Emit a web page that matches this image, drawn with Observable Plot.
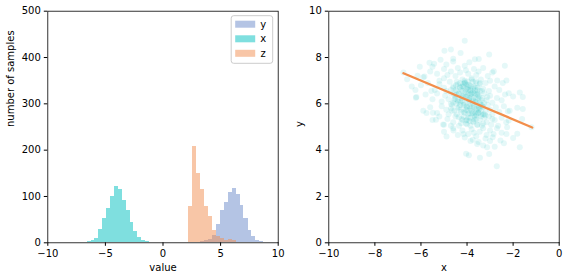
<!DOCTYPE html>
<html>
<head>
<meta charset="utf-8">
<script src="https://cdn.jsdelivr.net/npm/d3@7"></script>
<script src="https://cdn.jsdelivr.net/npm/@observablehq/plot@0.6"></script>
<style>
  html, body { margin: 0; padding: 0; background: #fff; }
  #wrap { position: relative; width: 568px; height: 280px; overflow: hidden; }
  #left, #right { position: absolute; top: 0; }
  #left { left: 0; }
  #right { left: 290px; }
  svg { overflow: visible; }
</style>
</head>
<body>
<div id="wrap"><div id="left"></div><div id="right"></div></div>
<script>
// ---------- data ----------
const seriesNames = ["y", "x", "z"];

// histogram bin edges and counts
const yEdges = [3.26, 3.60, 3.94, 4.29, 4.63, 4.98, 5.32, 5.66, 6.00, 6.35, 6.69, 7.03, 7.38, 7.72, 8.06, 8.41, 8.75];
const yCounts = [2, 4, 8, 15, 39, 70, 86, 109, 118, 104, 81, 53, 27, 14, 6, 2];

const xEdges = [-6.93, -6.59, -6.25, -5.91, -5.57, -5.24, -4.90, -4.56, -4.22, -3.88, -3.54, -3.20, -2.86, -2.53, -2.19, -1.85, -1.51, -1.17];
const xCounts = [1, 2, 4, 9, 28, 52, 73, 99, 121, 114, 91, 69, 43, 24, 11, 6, 2];

const zEdges = [2.19, 2.54, 2.88, 3.23, 3.58, 3.92, 4.27, 4.62, 4.96, 5.31, 5.66, 6.00, 6.35];
const zCounts = [78, 208, 150, 114, 78, 56, 26, 14, 9, 5, 7, 5];

// tick values
const leftXTicks = [-10, -5, 0, 5, 10];
const leftYTicks = [0, 100, 200, 300, 400, 500];
const rightXTicks = [-10, -8, -6, -4, -2, 0];
const rightYTicks = [0, 2, 4, 6, 8, 10];

// scatter points (x, y)
const scatterX = [
  -4.10,-4.98,-4.70,-4.28,-3.04,-6.05,-5.63,-5.43,-5.15,-4.60,-3.66,-3.49,-2.36,-2.84,-6.76,-6.60,-6.40,-6.24,-6.22,-6.15,
  -5.85,-5.76,-5.48,-5.35,-5.04,-4.89,-4.59,-4.15,-4.04,-3.92,-3.44,-2.71,-3.04,-3.13,-3.56,-3.75,-2.89,-2.55,-2.29,-2.00,
  -1.71,-1.82,-1.20,-1.61,-1.82,-1.58,-2.00,-1.58,-1.71,-2.19,-2.29,-2.69,-2.23,-2.19,-2.26,
  -5.5,-4.9,-4.4,-4.1,-3.7,-3.3,-4.6,-3.9,-5.0,
  -5.9,-5.3,-5.0,-4.7,-4.5,-4.3,-4.2,-3.95,-3.8,-3.6,-3.4,-3.1,-2.9,-5.6,-4.85,-4.05,-3.5,-5.2,-3.0,
  -6.0,-5.7,-5.4,-5.2,-5.0,-4.9,-4.75,-4.6,-4.5,-4.4,-4.3,-4.2,-4.1,-4.0,-3.9,-3.85,-3.75,-3.65,-3.55,-3.45,
  -3.3,-3.2,-3.05,-2.8,-2.6,-2.45,-5.55,-4.45,-4.15,-3.95,-3.6,-3.35,-4.7,-4.05,-3.7,
  -6.2,-5.8,-5.5,-5.3,-5.1,-4.95,-4.8,-4.7,-4.6,-4.5,-4.4,-4.35,-4.25,-4.15,-4.1,-4.0,-3.95,-3.9,-3.8,-3.75,
  -3.7,-3.6,-3.5,-3.45,-3.35,-3.25,-3.15,-3.0,-2.9,-2.7,-2.5,-2.35,-4.55,-4.3,-4.05,-3.85,-3.65,-3.55,-4.45,-4.2,-3.9,-3.75,
  -5.9,-5.6,-5.3,-5.1,-4.9,-4.8,-4.65,-4.55,-4.45,-4.35,-4.25,-4.15,-4.05,-3.95,-3.9,-3.8,-3.7,-3.65,-3.55,-3.5,
  -3.4,-3.3,-3.2,-3.1,-3.0,-2.9,-2.75,-2.6,-2.4,-2.15,-4.7,-4.1,-3.85,-3.6,-3.35,-3.25,-4.3,-4.0,-3.75,-3.45,
  -5.5,-5.2,-5.0,-4.85,-4.6,-4.5,-4.35,-4.2,-4.05,-3.95,-3.85,-3.75,-3.65,-3.55,-3.45,-3.35,-3.25,-3.15,-3.05,-2.95,
  -2.8,-2.65,-2.5,-2.3,-4.7,-4.0,-3.6,-3.3,-2.9,
  -5.0,-4.6,-4.4,-4.2,-3.95,-3.8,-3.6,-3.45,-3.3,-3.15,-3.0,-2.85,-2.7,-2.5,-3.7,-3.2,-4.1,
  -3.5,-3.3,-3.0,-2.8,-2.4,-3.85,
  // denser core
  -4.45,-4.35,-4.25,-4.18,-4.08,-3.98,-3.92,-3.82,-3.72,-3.62,-3.52,-3.42,-4.52,-4.38,-4.22,-4.12,-4.02,-3.88,-3.78,-3.68,
  -3.58,-3.48,-3.38,-4.6,-4.48,-4.32,-4.16,-4.06,-3.96,-3.86,-3.76,-3.66,-3.56,-3.46,-3.36,-3.26,-4.42,-4.28,-4.14,-4.0,
  -3.9,-3.8,-3.7,-3.6,-3.5,-3.4,-3.3,-4.56,-4.46,-4.3,-4.2,-4.1,-3.94,-3.84,-3.74,-3.64,-3.54,-3.44,-3.34,-4.36,
  -4.24,-4.04,-3.86,-3.68,-3.52,-3.2,-3.12,-4.7,-4.66,-4.1,-3.98,-3.8,-3.62,-3.44,-4.26,-4.0,-3.72,-3.56,-3.9,-4.14
];
const scatterY = [
  8.72,8.29,8.35,8.20,8.13,7.60,7.77,7.73,7.90,7.83,7.93,7.94,7.64,7.41,7.35,7.06,6.75,6.60,6.26,7.21,
  7.18,5.60,5.61,5.31,5.11,4.59,4.85,4.70,3.84,3.78,3.67,3.31,3.83,4.13,4.27,4.45,4.56,4.42,4.70,4.53,
  4.13,4.71,4.99,5.35,5.83,5.78,6.32,6.29,6.49,6.46,7.01,7.01,5.68,5.28,4.99,
  7.6,7.7,7.55,7.65,7.5,7.55,7.95,7.8,7.5,
  7.15,7.3,7.1,7.4,7.2,7.35,7.05,7.3,7.1,7.25,7.05,7.2,7.35,7.4,7.25,7.45,7.4,7.0,7.0,
  6.8,6.9,6.6,6.85,6.7,6.55,6.95,6.75,6.6,6.85,6.7,6.55,6.9,6.65,6.8,6.55,6.95,6.7,6.6,6.85,
  6.65,6.9,6.55,6.75,6.6,6.9,6.55,6.95,6.75,6.6,6.9,6.55,6.6,6.85,6.75,
  6.3,6.4,6.2,6.45,6.1,6.35,6.2,6.45,6.05,6.3,6.15,6.45,6.25,6.05,6.4,6.2,6.45,6.1,6.3,6.05,
  6.45,6.2,6.35,6.05,6.25,6.45,6.15,6.35,6.05,6.25,6.15,6.4,6.2,6.1,6.3,6.4,6.1,6.45,6.4,6.35,6.25,6.15,
  5.7,5.85,5.6,5.9,5.75,5.55,5.95,5.7,5.55,5.85,5.65,5.95,5.75,5.55,5.9,5.7,5.85,5.6,5.95,5.75,
  5.55,5.85,5.65,5.95,5.75,5.55,5.85,5.65,5.9,5.7,5.8,5.6,5.8,5.7,5.95,5.55,5.95,5.85,5.6,5.8,
  5.3,5.45,5.1,5.35,5.2,5.45,5.05,5.3,5.15,5.4,5.05,5.25,5.45,5.1,5.3,5.05,5.4,5.2,5.45,5.1,
  5.3,5.05,5.4,5.2,5.05,5.3,5.35,5.15,5.35,
  4.8,4.95,4.65,4.85,4.7,4.9,4.6,4.8,4.95,4.65,4.85,4.7,4.95,4.75,4.75,4.5,4.55,
  4.35,4.2,4.4,4.15,4.3,4.4,
  // denser core
  6.55,6.42,6.62,6.3,6.5,6.36,6.18,6.44,6.26,6.08,6.22,5.98,6.22,6.08,6.14,5.96,5.88,6.02,5.84,5.94,
  5.78,5.86,5.7,6.68,6.8,6.74,6.86,6.62,6.72,6.6,6.5,6.58,6.4,6.3,6.16,6.04,5.82,5.74,5.66,5.72,
  5.6,5.58,5.48,5.52,5.62,5.46,5.54,6.4,6.02,6.9,6.76,6.92,6.82,6.76,6.66,6.44,6.7,6.56,5.9,5.42,
  5.36,5.28,5.4,5.32,5.6,5.5,6.3,6.0,5.7,7.0,6.96,7.05,6.98,6.9,5.16,5.12,5.22,5.1,5.26,5.44
];

// regression line end points
const fitX = [-6.76, -1.17];
const fitY = [7.32, 4.98];

// ---------- styles ----------
const colBlue = "#6a89c9";
const colTeal = "#00bfbf";
const colOrange = "#f18d4f";
const colLine = "#f28e4b";
const font = "DejaVu Sans";

const toBins = (edges, counts, name) =>
  counts.map((c, i) => ({x1: edges[i], x2: edges[i + 1], count: c, series: name}));

const binsY = toBins(yEdges, yCounts, "y");
const binsX = toBins(xEdges, xCounts, "x");
const binsZ = toBins(zEdges, zCounts, "z");
const points = scatterX.map((x, i) => ({x, y: scatterY[i]}));
const fitLine = fitX.map((x, i) => ({x, y: fitY[i]}));

const axisCommon = {tickSize: 3.5, tickPadding: 3.5, label: null};

const left = Plot.plot({
  width: 290, height: 280,
  marginLeft: 47.3, marginRight: 12.3, marginTop: 10.7, marginBottom: 37.7,
  style: {fontFamily: font, fontSize: "10px", color: "#000", background: "transparent"},
  x: {domain: [-10, 10], ticks: leftXTicks, ...axisCommon},
  y: {domain: [0, 500], ticks: leftYTicks, ...axisCommon},
  marks: [
    Plot.rectY(binsY, {x1: "x1", x2: "x2", y: "count", fill: colBlue, fillOpacity: 0.5, shapeRendering: "crispEdges"}),
    Plot.rectY(binsX, {x1: "x1", x2: "x2", y: "count", fill: colTeal, fillOpacity: 0.5, shapeRendering: "crispEdges"}),
    Plot.rectY(binsZ, {x1: "x1", x2: "x2", y: "count", fill: colOrange, fillOpacity: 0.5, shapeRendering: "crispEdges"}),
    Plot.frame({stroke: "#000", strokeWidth: 0.8}),
    Plot.text(["value"], {frameAnchor: "bottom", dy: 25, lineAnchor: "middle", fontSize: 10}),
    Plot.text(["number of samples"], {frameAnchor: "left", dx: -36.6, rotate: -90, lineAnchor: "middle", fontSize: 10})
  ]
});
document.getElementById("left").appendChild(left);

// legend (in the left panel)
{
  const svg = d3.select(left);
  const g = svg.append("g").attr("font-family", font).attr("font-size", 10);
  g.append("rect").attr("x", 231.2).attr("y", 15.7).attr("width", 41.5).attr("height", 47.6)
    .attr("rx", 2.5).attr("fill", "#fff").attr("fill-opacity", 0.8).attr("stroke", "#cccccc").attr("stroke-width", 1);
  const cols = [colBlue, colTeal, colOrange];
  const rowsY = [24.2, 38.8, 53.3];
  seriesNames.forEach((n, i) => {
    g.append("rect").attr("x", 235.2).attr("y", rowsY[i] - 3.5).attr("width", 20).attr("height", 7)
      .attr("fill", cols[i]).attr("fill-opacity", 0.5);
    g.append("text").attr("x", 263.2).attr("y", rowsY[i]).attr("dy", "0.35em").attr("fill", "#000").text(n);
  });
}

const right = Plot.plot({
  width: 278, height: 280,
  marginLeft: 38.3, marginRight: 9.3, marginTop: 10.7, marginBottom: 37.7,
  style: {fontFamily: font, fontSize: "10px", color: "#000", background: "transparent"},
  x: {domain: [-10, 0], ticks: rightXTicks, ...axisCommon},
  y: {domain: [0, 10], ticks: rightYTicks, ...axisCommon},
  marks: [
    Plot.dot(points, {x: "x", y: "y", r: 3, fill: colTeal, fillOpacity: 0.1}),
    Plot.line(fitLine, {x: "x", y: "y", stroke: colLine, strokeWidth: 2.3}),
    Plot.frame({stroke: "#000", strokeWidth: 0.8}),
    Plot.text(["x"], {frameAnchor: "bottom", dy: 25, lineAnchor: "middle", fontSize: 10}),
    Plot.text(["y"], {frameAnchor: "left", dx: -29.3, rotate: -90, lineAnchor: "middle", fontSize: 10})
  ]
});
document.getElementById("right").appendChild(right);
</script>
</body>
</html>
